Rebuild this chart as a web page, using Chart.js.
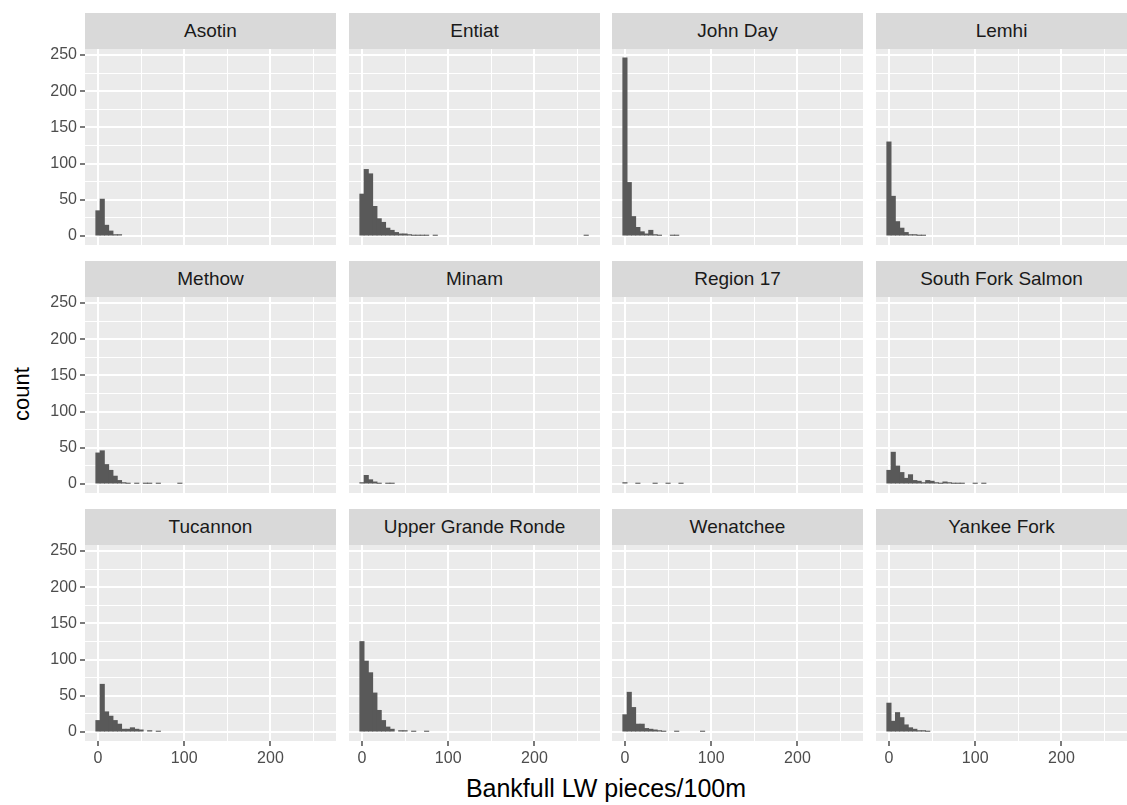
<!DOCTYPE html>
<html>
<head>
<meta charset="utf-8">
<script src="https://cdn.jsdelivr.net/npm/chart.js@4"></script>
<style>
  body { margin: 0; width: 1127px; height: 805px; background: #fff; position: relative; overflow: hidden;
         font-family: "Liberation Sans", Arial, sans-serif; }
  canvas { position: absolute; }
  .strip { position: absolute; background: #D9D9D9; color: #1A1A1A; font-size: 19px;
           display: flex; align-items: center; justify-content: center; }
  .title-x { position: absolute; left: 85px; width: 1042px; top: 774px; text-align: center;
             font-size: 25px; color: #000; }
  .title-y { position: absolute; left: 22px; top: 394px; font-size: 22px; color: #000;
             transform: translate(-50%, -50%) rotate(-90deg); white-space: nowrap; }
</style>
</head>
<body>
<div class="title-y">count</div>
<div class="title-x">Bankfull LW pieces/100m</div>
<script>
// facets, in ggplot order (row by row)
const facetNames = ['Asotin', 'Entiat', 'John Day', 'Lemhi',
                    'Methow', 'Minam', 'Region 17', 'South Fork Salmon',
                    'Tucannon', 'Upper Grande Ronde', 'Wenatchee', 'Yankee Fork'];

// histogram counts, one value per bin of width 5 starting at 0
const binWidth = 5;
const asotin = [35, 51, 15, 7, 2, 2];
const entiat = [58, 92, 86, 41, 24, 19, 11, 8, 5, 3, 3, 2, 1, 1, 1, 1, 0, 1,
                0, 0, 0, 0, 0, 0, 0, 0, 0, 0, 0, 0, 0, 0, 0, 0, 0, 0, 0, 0, 0, 0,
                0, 0, 0, 0, 0, 0, 0, 0, 0, 0, 0, 0, 1];
const johnDay = [246, 74, 27, 12, 6, 3, 8, 2, 1, 0, 0, 1, 1];
const lemhi = [130, 55, 20, 11, 5, 2, 2, 1, 1];
const methow = [43, 46, 27, 19, 11, 5, 2, 1, 0, 1, 0, 1, 1, 0, 1, 0, 0, 0, 0, 1];
const minam = [2, 12, 6, 3, 1, 0, 1, 1];
const region17 = [2, 0, 0, 1, 0, 0, 0, 1, 0, 0, 1, 0, 0, 1];
const southForkSalmon = [19, 44, 25, 16, 8, 13, 5, 4, 2, 5, 4, 2, 1, 3, 2, 1, 1, 1, 0, 0, 1, 0, 1];
const tucannon = [16, 66, 28, 22, 16, 11, 4, 4, 6, 4, 3, 0, 2, 0, 1];
const upperGrandeRonde = [125, 98, 82, 54, 30, 16, 7, 4, 0, 2, 2, 0, 1, 0, 0, 1];
const wenatchee = [24, 55, 34, 11, 11, 5, 4, 3, 2, 1, 0, 0, 1, 0, 0, 0, 0, 0, 1];
const yankeeFork = [40, 15, 27, 20, 10, 6, 4, 2, 2, 1];

const facetCounts = [asotin, entiat, johnDay, lemhi, methow, minam, region17,
                     southForkSalmon, tucannon, upperGrandeRonde, wenatchee, yankeeFork];

// axis breaks (major labelled, minor only gridlines)
const xBreaks = [0, 50, 100, 150, 200, 250];
const xLabels = [0, 100, 200];
const yBreaks = [0, 25, 50, 75, 100, 125, 150, 175, 200, 225, 250];
const yLabels = [0, 50, 100, 150, 200, 250];
const xLimits = [-15, 276];
const yLimits = [-12.3, 258.3];

// page layout
const colLeft = [85, 349, 612, 876];
const rowTop = [49, 297, 545];
const panelW = 251, panelH = 196, stripH = 36;
const yAxisW = 45, xAxisH = 30;
const padTop = 12;   // room so the top y label is not clipped

// grey panel background behind the grid
const panelBg = {
    id: 'panelBg',
    beforeDraw(chart) {
        const { ctx, chartArea: a } = chart;
        ctx.save();
        ctx.fillStyle = '#EBEBEB';
        ctx.fillRect(a.left, a.top, a.width, a.height);
        ctx.restore();
    }
};

function axis(breaks, labels, limits, show, size) {
    const isMajor = v => labels.includes(v);
    return {
        type: 'linear',
        min: limits[0],
        max: limits[1],
        offset: false,
        border: { display: false },
        afterBuildTicks: s => { s.ticks = breaks.map(v => ({ value: v })); },
        afterFit: s => {
            // fixed axis size, no extra room for overhanging labels
            if (s.isHorizontal()) s.height = size; else s.width = size;
            s.paddingTop = s.paddingBottom = s.paddingLeft = s.paddingRight = 0;
        },
        grid: {
            offset: false,
            color: '#FFFFFF',
            lineWidth: c => isMajor(c.tick.value) ? 2 : 1,
            drawTicks: show,
            tickLength: 5,
            tickWidth: 1.3,
            tickColor: c => isMajor(c.tick.value) ? '#333333' : 'rgba(0,0,0,0)'
        },
        ticks: {
            display: show,
            padding: 3,
            maxRotation: 0,
            autoSkip: false,
            color: '#4D4D4D',
            font: { family: '"Liberation Sans", Arial, sans-serif', size: 16 },
            callback: v => isMajor(v) ? String(v) : ''
        }
    };
}

facetNames.forEach((name, i) => {
    const row = Math.floor(i / 4), col = i % 4;
    const showY = col === 0, showX = row === 2;

    const strip = document.createElement('div');
    strip.className = 'strip';
    strip.textContent = name;
    Object.assign(strip.style, {
        left: colLeft[col] + 'px', top: (rowTop[row] - stripH) + 'px',
        width: panelW + 'px', height: stripH + 'px'
    });
    document.body.appendChild(strip);

    const canvas = document.createElement('canvas');
    const w = panelW + (showY ? yAxisW : 0);
    const h = padTop + panelH + (showX ? xAxisH : 0);
    canvas.width = w;
    canvas.height = h;
    canvas.style.left = (colLeft[col] - (showY ? yAxisW : 0)) + 'px';
    canvas.style.top = (rowTop[row] - padTop) + 'px';
    document.body.appendChild(canvas);

    const points = facetCounts[i].map((n, k) => ({ x: k * binWidth, y: n }));

    new Chart(canvas, {
        type: 'bar',
        data: {
            datasets: [{
                data: points,
                // empty bins stay invisible; filled ones are slightly inflated to close seams
                backgroundColor: c => (c.raw && c.raw.y > 0) ? '#595959' : 'rgba(0,0,0,0)',
                borderWidth: 0,
                inflateAmount: 0.4,
                barPercentage: 1,
                categoryPercentage: 1
            }]
        },
        options: {
            responsive: false,
            animation: false,
            devicePixelRatio: 1,
            layout: { padding: { top: padTop, left: 0, right: 0, bottom: 0 } },
            plugins: { legend: { display: false }, tooltip: { enabled: false } },
            scales: {
                x: axis(xBreaks, xLabels, xLimits, showX, showX ? xAxisH : 0),
                y: axis(yBreaks, yLabels, yLimits, showY, showY ? yAxisW : 0)
            }
        },
        plugins: [panelBg]
    });
});
</script>
</body>
</html>
